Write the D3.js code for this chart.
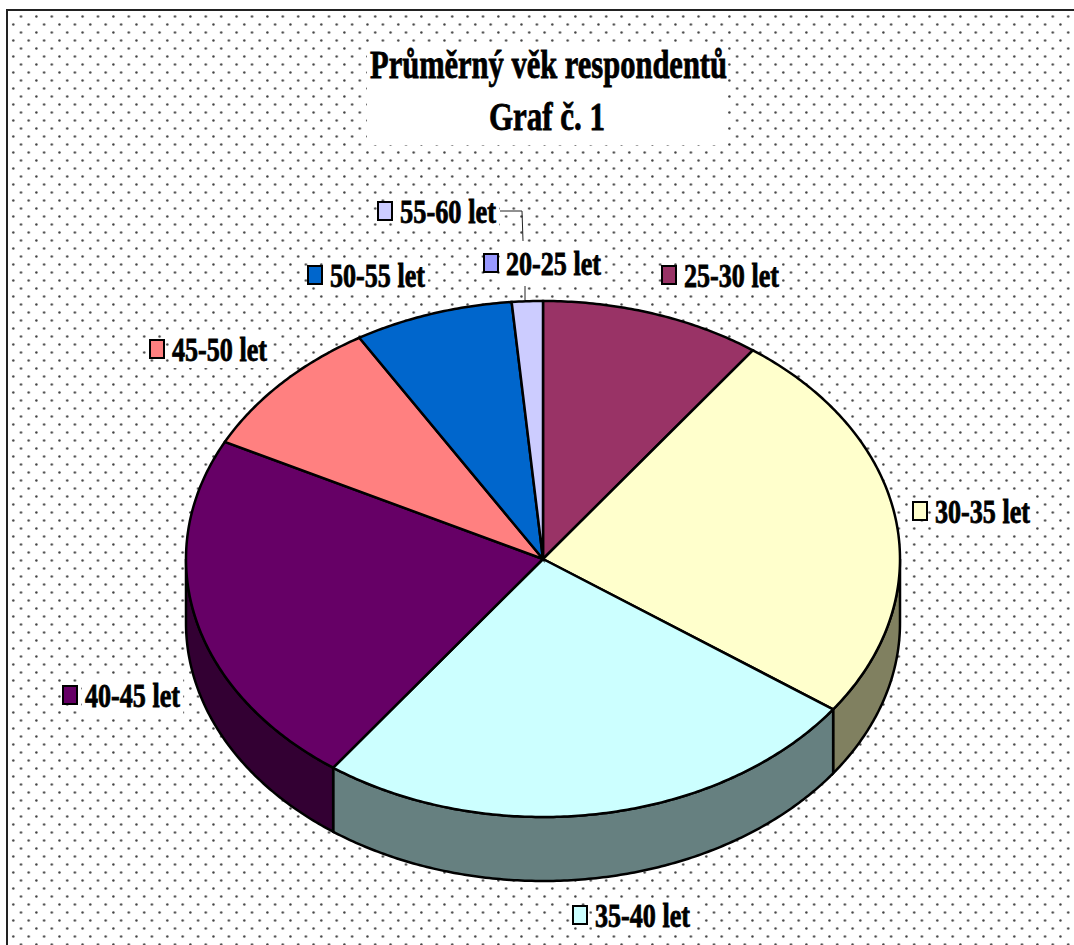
<!DOCTYPE html>
<html>
<head>
<meta charset="utf-8">
<script src="https://cdn.jsdelivr.net/npm/d3@7/dist/d3.min.js"></script>
<style>
  html, body { margin: 0; padding: 0; background: #fff; }
  svg { display: block; }
  text { font-family: "Liberation Serif", serif; font-weight: bold; fill: #000; stroke: #000; stroke-width: 0.8; }
</style>
</head>
<body>
<div id="chart"></div>
<script>
// values, in percent
const categories = ['20-25 let', '25-30 let', '30-35 let', '35-40 let', '40-45 let', '45-50 let', '50-55 let', '55-60 let'];
const values = [0, 10, 24.9, 25.1, 22.5, 8.9, 7.2, 1.4];
const sliceColors = ['#9999ff', '#993366', '#ffffcc', '#ccffff', '#660066', '#ff8080', '#0066cc', '#ccccff'];
const wallColors = ['#666699', '#662244', '#808060', '#668080', '#330033', '#804040', '#003366', '#666680'];
const titleLines = ['Průměrný věk respondentů', 'Graf č. 1'];

const width = 1074;
const height = 945;
const cx = 543;
const cy = 559;
const rx = 357;
const ry = 258;
const depth = 64;

// label anchors, same order as categories: [swatch x, text baseline y, text width]
const labelPos = [
  [483, 275, 95], [661, 287, 95], [912, 523, 95], [572, 927, 95],
  [62, 707, 95], [149, 361, 95], [307, 287, 95], [377, 223, 96]
];

const svg = d3.select('#chart').append('svg')
  .attr('width', width)
  .attr('height', height);

// dotted background
const defs = svg.append('defs');
const pattern = defs.append('pattern')
  .attr('id', 'dots')
  .attr('patternUnits', 'userSpaceOnUse')
  .attr('x', 10).attr('y', 13)
  .attr('width', 15.4).attr('height', 16);
pattern.append('circle').attr('cx', 11).attr('cy', 3.5).attr('r', 1.2).attr('fill', '#444');
pattern.append('circle').attr('cx', 3.3).attr('cy', 11.5).attr('r', 1.2).attr('fill', '#444');

svg.append('rect')
  .attr('x', 7).attr('y', 10)
  .attr('width', width).attr('height', height)
  .attr('fill', 'url(#dots)')
  .attr('stroke', '#222')
  .attr('stroke-width', 2);

// white title box
svg.append('rect')
  .attr('x', 367).attr('y', 44)
  .attr('width', 361).attr('height', 101)
  .attr('fill', '#fff');

svg.selectAll('.title')
  .data(titleLines)
  .enter().append('text')
  .attr('class', 'title')
  .attr('x', (d, i) => i == 0 ? 370 : 489)
  .attr('y', (d, i) => 78 + i * 52)
  .attr('font-size', 40)
  .attr('textLength', (d, i) => i == 0 ? 357 : 116)
  .attr('lengthAdjust', 'spacingAndGlyphs')
  .text(d => d);

// pie, angles from d3.pie, squashed into an ellipse
const pie = d3.pie().sort(null).value(d => d);
const arcs = pie(values);
const px = d3.scaleLinear().domain([-1, 1]).range([cx - rx, cx + rx]);
const py = d3.scaleLinear().domain([-1, 1]).range([cy - ry, cy + ry]);
const ellipse = (a, dy) => [px(Math.sin(a)), py(-Math.cos(a)) + dy];

function wallPath(d) {
  // only the front half of the rim shows
  const a0 = Math.max(d.startAngle, Math.PI / 2);
  const a1 = Math.min(d.endAngle, 3 * Math.PI / 2);
  if (a1 <= a0) return null;
  const steps = d3.range(a0, a1, 0.01).concat([a1]);
  const top = steps.map(a => ellipse(a, 0));
  const bottom = steps.slice().reverse().map(a => ellipse(a, depth));
  return d3.line()(top.concat(bottom)) + 'Z';
}

svg.selectAll('.wall')
  .data(arcs)
  .enter().append('path')
  .attr('class', 'wall')
  .attr('d', wallPath)
  .attr('fill', (d, i) => wallColors[i])
  .attr('stroke', '#000')
  .attr('stroke-width', 2.5);

function slicePath(d) {
  const steps = d3.range(d.startAngle, d.endAngle, 0.01).concat([d.endAngle]);
  return d3.line()([[cx, cy]].concat(steps.map(a => ellipse(a, 0)))) + 'Z';
}

svg.selectAll('.slice')
  .data(arcs.filter(d => d.value > 0))
  .enter().append('path')
  .attr('class', 'slice')
  .attr('d', slicePath)
  .attr('fill', d => sliceColors[d.index])
  .attr('stroke', '#000')
  .attr('stroke-width', 2.5);

// legend-style labels on white boxes
const label = svg.selectAll('.label')
  .data(categories)
  .enter().append('g')
  .attr('class', 'label')
  .attr('transform', (d, i) => `translate(${labelPos[i][0]},${labelPos[i][1]})`);

label.append('rect')
  .attr('x', 20).attr('y', -28)
  .attr('width', (d, i) => labelPos[i][2] + 6).attr('height', 35)
  .attr('fill', '#fff');

label.append('rect')
  .attr('x', 1).attr('y', -21)
  .attr('width', 14).attr('height', 18)
  .attr('fill', (d, i) => sliceColors[i])
  .attr('stroke', '#000')
  .attr('stroke-width', 2);

label.append('text')
  .attr('x', 23)
  .attr('y', 0)
  .attr('font-size', 34)
  .attr('textLength', (d, i) => labelPos[i][2])
  .attr('lengthAdjust', 'spacingAndGlyphs')
  .text(d => d);

// leader lines for the two thin slices
svg.append('path')
  .attr('d', 'M500,211H522L523,241M525,286V300')
  .attr('fill', 'none')
  .attr('stroke', '#222')
  .attr('stroke-width', 1);
</script>
</body>
</html>
